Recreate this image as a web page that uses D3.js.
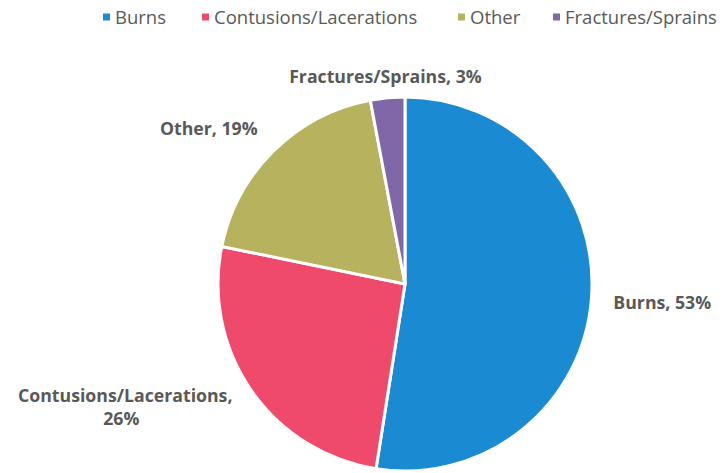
<!DOCTYPE html>
<html>
<head>
<meta charset="utf-8">
<script src="https://cdn.jsdelivr.net/npm/d3@7"></script>
<style>
  body { margin: 0; background: #fff; }
  svg { display: block; font-family: "Open Sans", "Noto Sans", sans-serif; }
</style>
</head>
<body>
<div id="chart"></div>
<script>
// Chart data
var categories = ["Burns", "Contusions/Lacerations", "Other", "Fractures/Sprains"];
var values = [53, 26, 19, 3];
var colors = ["#1a8bd3", "#ef4a6b", "#b6b25e", "#8068a8"];

var svgWidth = 724;
var svgHeight = 473;
var cx = 405, cy = 284, radius = 187;

var svg = d3.select("#chart")
  .append("svg")
  .attr("width", svgWidth)
  .attr("height", svgHeight);

var data = categories.map((c, i) => ({ name: c, value: values[i] }));

var pie = d3.pie().sort(null).value(d => d.value);
var arcs = pie(data);

var arc = d3.arc().innerRadius(0).outerRadius(radius);
var labelArc = d3.arc().innerRadius(210).outerRadius(210);

var color = d3.scaleOrdinal().domain(categories).range(colors);

var pieGroup = svg.append("g")
  .attr("transform", `translate(${cx}, ${cy})`);

pieGroup.selectAll("path")
  .data(arcs)
  .enter()
  .append("path")
  .attr("d", arc)
  .attr("fill", d => color(d.data.name))
  .attr("stroke", "#fff")
  .attr("stroke-width", 3)
  .attr("stroke-linejoin", "round");

// Labels outside the slices
pieGroup.selectAll("text.label")
  .data(arcs)
  .enter()
  .append("text")
  .attr("class", "label")
  .attr("fill", "#595959")
  .attr("font-size", 17.7)
  .attr("font-weight", "bold")
  .each(function(d) {
    var t = d3.select(this);
    var p = labelArc.centroid(d);
    var mid = (d.startAngle + d.endAngle) / 2;
    var txt = d.data.name + ", " + d.data.value + "%";
    if (d.data.name === "Contusions/Lacerations") {
      // two lines, centred under each other
      t.attr("text-anchor", "middle");
      t.append("tspan").attr("x", 0).attr("dy", 0).text(d.data.name + ",");
      var w = this.getComputedTextLength();
      t.attr("transform", `translate(${p[0] - w / 2}, ${p[1] - 2})`);
      t.append("tspan").attr("x", -4).attr("dy", 23).text(d.data.value + "%");
    } else if (mid > Math.PI * 1.9 || mid < Math.PI * 0.1) {
      t.attr("text-anchor", "middle")
        .attr("transform", `translate(${p[0]}, ${p[1] + 8})`)
        .text(txt);
    } else if (mid < Math.PI) {
      t.attr("text-anchor", "start")
        .attr("transform", `translate(${p[0] - 1}, ${p[1] + 9})`)
        .text(txt);
    } else {
      t.attr("text-anchor", "end")
        .attr("transform", `translate(${p[0]}, ${p[1] + 1})`)
        .text(txt);
    }
  });

// Legend across the top
var legendX = [103, 202, 458, 553];
var legend = svg.append("g").attr("transform", "translate(0, 17)");
var items = legend.selectAll("g")
  .data(categories)
  .enter()
  .append("g")
  .attr("transform", (d, i) => `translate(${legendX[i]}, 0)`);

items.append("rect")
  .attr("x", 0)
  .attr("y", -3.5)
  .attr("width", 7)
  .attr("height", 7)
  .attr("fill", d => color(d));

items.append("text")
  .attr("x", 12)
  .attr("y", 6.5)
  .attr("fill", "#595959")
  .attr("font-size", 18.5)
  .text(d => d);
</script>
</body>
</html>
